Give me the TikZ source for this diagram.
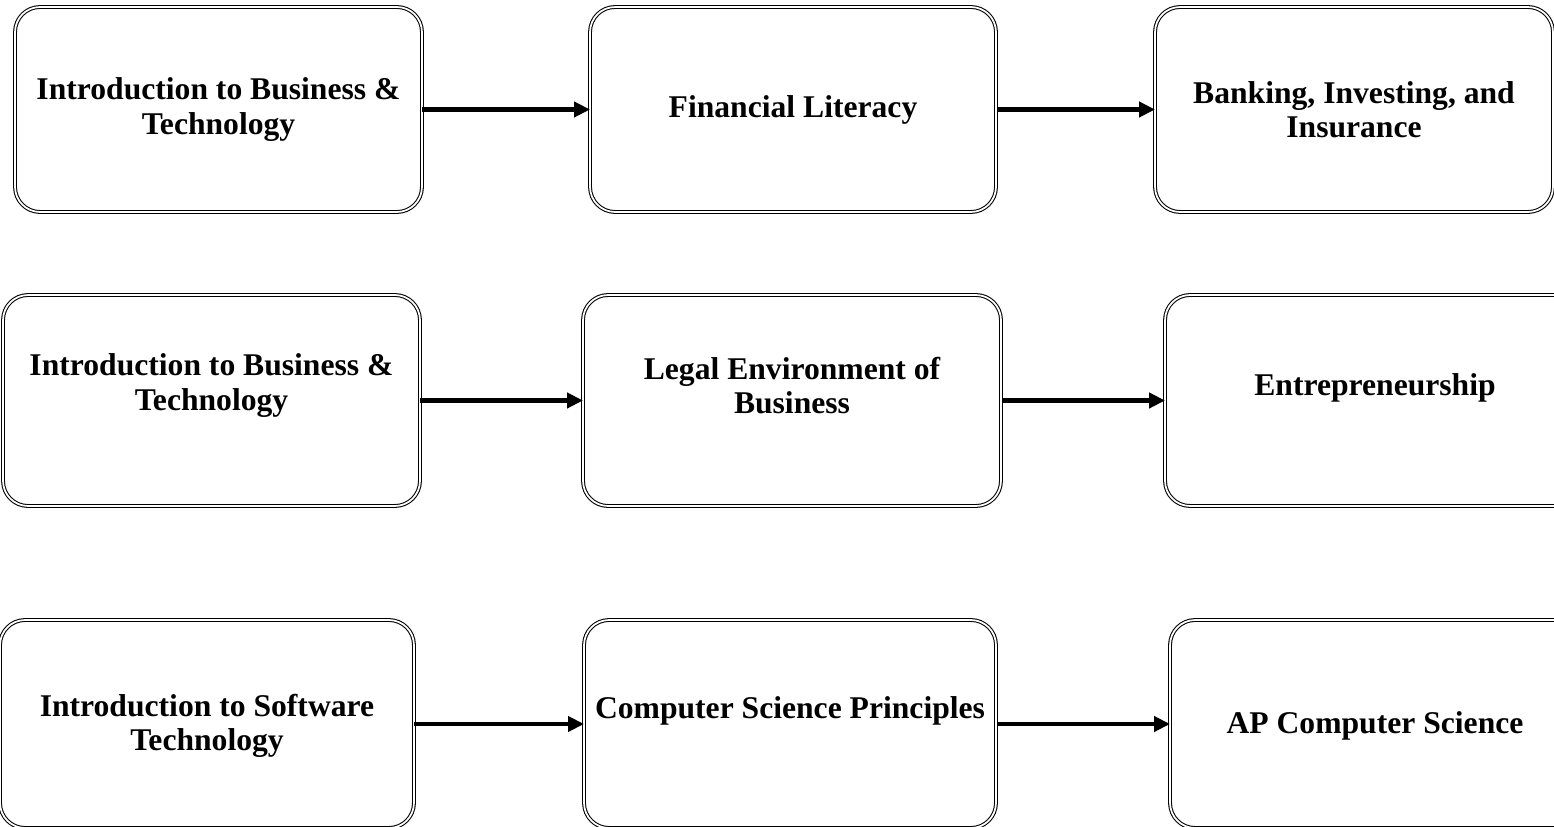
\documentclass[tikz,border=0pt]{standalone}
\usepackage{fontspec}
\setmainfont{Liberation Serif}
\usetikzlibrary{arrows.meta}

\tikzset{
  course/.style={rectangle, rounded corners=0.5cm, draw, double, double distance=1pt, line width=0.6pt, inner sep=0pt},
  coursetext/.style={align=center, font=\fontsize{18}{19.5}\selectfont\bfseries, inner sep=0pt},
  link/.style={line width=2.4pt, -{Triangle[length=0.32cm, width=0.3cm]}, shorten >=-0.3pt}
}

\begin{document}
\begin{tikzpicture}[x=0.02cm, y=-0.02cm]
\useasboundingbox (0,0) rectangle (1554,827);
\clip (0,0) rectangle (1554,827);

% first row
\node[course, minimum width=8.14cm, minimum height=4.1cm, label={[coursetext]center:Introduction to Business \&\\Technology}] (r1a) at (218.5,109.5) {};
\node[course, minimum width=8.12cm, minimum height=4.1cm, label={[coursetext]center:Financial Literacy}] (r1b) at (793,109.5) {};
\node[course, minimum width=7.96cm, minimum height=4.1cm, label={[coursetext]center:Banking, Investing, and\\Insurance}] (r1c) at (1354,109.5) {};

% second row
\node[course, minimum width=8.34cm, minimum height=4.22cm, label={[coursetext, yshift=0.3cm]center:Introduction to Business \&\\Technology}] (r2a) at (211.5,400.5) {};
\node[course, minimum width=8.36cm, minimum height=4.22cm, label={[coursetext, yshift=0.3cm]center:Legal Environment of\\Business}] (r2b) at (792,400.5) {};
\node[course, minimum width=8.4cm, minimum height=4.22cm, label={[coursetext, yshift=0.26cm]center:Entrepreneurship}] (r2c) at (1375,400.5) {};

% third row
\node[course, minimum width=8.28cm, minimum height=4.16cm, label={[coursetext, yshift=-0.03cm]center:Introduction to Software\\Technology}] (r3a) at (207,724) {};
\node[course, minimum width=8.24cm, minimum height=4.16cm, label={[coursetext, yshift=0.26cm]center:Computer Science Principles}] (r3b) at (790,724) {};
\node[course, minimum width=8.2cm, minimum height=4.16cm, label={[coursetext, yshift=-0.03cm]center:AP Computer Science}] (r3c) at (1375,724) {};

\draw[link] (r1a) -- (r1b);
\draw[link] (r1b) -- (r1c);
\draw[link] (r2a) -- (r2b);
\draw[link] (r2b) -- (r2c);
\draw[link] (r3a) -- (r3b);
\draw[link] (r3b) -- (r3c);
\end{tikzpicture}
\end{document}
